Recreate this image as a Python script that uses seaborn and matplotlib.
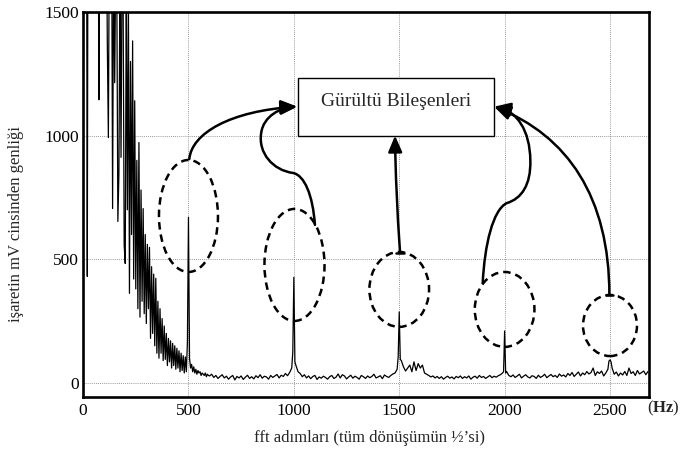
import numpy as np
import pandas as pd
import matplotlib
matplotlib.use("Agg")
import matplotlib.pyplot as plt
import seaborn as sns
from matplotlib.patches import Ellipse, FancyArrowPatch, Rectangle
from matplotlib.path import Path

# ---------------- data ----------------
freq_low = np.arange(0, 600, 5)
amp_low = [
    3000, 3000, 2800, 2600, 431, 2900, 2500, 2700, 2300, 2600,
    2400, 2200, 2500, 2100, 2300, 1145, 2400, 2000, 2200, 1900,
    2100, 1800, 2000, 1370, 992, 1900, 1700, 2000, 705, 1800,
    1214, 1700, 1600, 653, 846, 1650, 912, 1700, 1550, 556,
    483, 1600, 700, 1550, 362, 1300, 600, 1383, 420, 1141,
    380, 900, 300, 972, 266, 780, 330, 705, 280, 600,
    240, 560, 300, 548, 180, 470, 200, 440, 150, 423,
    120, 330, 100, 300, 120, 260, 90, 230, 95, 200,
    70, 180, 85, 170, 60, 160, 70, 150, 55, 140,
    60, 130, 45, 120, 50, 110, 40, 105, 45, 165,
    670, 100, 60, 75, 45, 65, 40, 55, 35, 50,
    40, 45, 30, 40, 35, 30, 40, 25, 35, 30,
]
freq_floor = np.arange(600, 2690, 10)
amp_floor = [
    28, 35, 22, 30, 18, 26, 33, 20, 27, 15,
    24, 30, 12, 26, 20, 28, 14, 23, 31, 18,
    25, 16, 29, 21, 33, 19, 27, 24, 15, 30,
    22, 28, 34, 20, 31, 26, 38, 29, 42, 60,
    427, 70, 45, 38, 25, 33, 20, 28, 17, 26,
    30, 14, 24, 19, 27, 22, 15, 25, 30, 18,
    23, 36, 20, 33, 28, 16, 24, 31, 19, 27,
    22, 15, 30, 25, 18, 28, 21, 26, 35, 20,
    24, 29, 17, 32, 26, 22, 30, 36, 40, 55,
    287, 90, 65, 48, 60, 72, 45, 85, 50, 78,
    60, 72, 40, 35, 30, 24, 28, 20, 26, 18,
    25, 15, 22, 27, 19, 24, 16, 26, 21, 28,
    18, 25, 20, 28, 15, 23, 27, 19, 30, 22,
    26, 18, 24, 30, 21, 27, 23, 29, 33, 40,
    210, 45, 30, 25, 32, 22, 28, 35, 20, 27,
    33, 24, 20, 29, 26, 18, 31, 22, 27, 35,
    21, 28, 34, 25, 30, 22, 36, 27, 32, 24,
    38, 30, 42, 26, 35, 44, 28, 40, 33, 46,
    36, 42, 60, 30, 45, 38, 48, 28, 40, 55,
    93, 60, 35, 44, 28, 40, 32, 46, 30, 60,
    38, 45, 30, 50, 36, 42, 48, 33, 46,
]
freq_shoulder = [995, 1005, 1495, 1505, 1995, 2005, 2495, 2505]
amp_shoulder = [125, 85, 105, 95, 45, 40, 88, 85]

x_ticks = [0, 500, 1000, 1500, 2000, 2500]
y_ticks = [0, 500, 1000, 1500]
x_label = "fft adımları (tüm dönüşümün ½’si)"
y_label = "işaretin mV cinsinden genliği"
box_label = "Gürültü Bileşenleri"

# annotation geometry (data units)
ellipses = [  # (cx, cy, width, height)
    (500, 675, 280, 453),
    (1003, 477, 285, 453),
    (1500, 378, 283, 303),
    (2000, 297, 283, 303),
    (2500, 232, 256, 247),
]
box = (1018, 1000, 930, 232)

# ---------------- figure ----------------
sns.set_style("white")
plt.rcParams["font.family"] = ["Liberation Serif", "DejaVu Serif"]
plt.rcParams["mathtext.fontset"] = "custom"
plt.rcParams["mathtext.rm"] = "Liberation Serif"
plt.rcParams["mathtext.bf"] = "Liberation Serif:bold"

df = pd.concat([
    pd.DataFrame({"freq": freq_low, "amp": amp_low}),
    pd.DataFrame({"freq": freq_floor, "amp": amp_floor}),
    pd.DataFrame({"freq": freq_shoulder, "amp": amp_shoulder}),
]).sort_values("freq").reset_index(drop=True)

fig = plt.figure(figsize=(6.81, 4.54), dpi=100)
ax = fig.add_axes([0.122, 0.1256, 0.831, 0.848])

sns.lineplot(data=df, x="freq", y="amp", color="black", linewidth=0.9,
             estimator=None, ax=ax, zorder=3)

ax.set_xlim(0, 2685)
ax.set_ylim(-57, 1500)
ax.set_xticks(x_ticks)
ax.set_yticks(y_ticks)
ax.tick_params(length=0, labelsize=12.5, colors="black")
ax.tick_params(axis="x", pad=4)
ax.tick_params(axis="y", pad=3)
ax.grid(True, linestyle=(0, (1, 1.5)), color="#777777", linewidth=0.6)
for s in ax.spines.values():
    s.set_linewidth(1.9)
    s.set_color("black")

ax.set_xlabel(x_label, fontsize=12)
ax.set_ylabel(y_label, fontsize=12)
ax.xaxis.set_label_coords(0.507, -0.085)
ax.yaxis.set_label_coords(-0.104, 0.449)

fig.text(680 / 681, 1 - 408 / 454, r"($\mathbf{Hz}$)", fontsize=12,
         ha="right", va="center")

# dashed ellipses
for cx, cy, w, h in ellipses:
    ax.add_patch(Ellipse((cx, cy), w, h, fill=False, edgecolor="black",
                         linewidth=1.8, linestyle=(0, (3, 2)), zorder=4))

# box with label
bx, by, bw, bh = box
ax.add_patch(Rectangle((bx, by), bw, bh, facecolor="white",
                       edgecolor="black", linewidth=1.0, zorder=5))
ax.text(bx + bw / 2, by + bh * 0.6, box_label, fontsize=14,
        ha="center", va="center", zorder=6)

# curved arrows
M, C = Path.MOVETO, Path.CURVE4
arrow_paths = [
    ([(504, 905), (515, 1010), (700, 1100), (1016, 1117)], [M, C, C, C]),
    ([(1100, 639), (1090, 760), (1050, 840), (996, 849),
      (900, 860), (830, 930), (845, 1010),
      (855, 1080), (940, 1115), (1016, 1117)], [M] + [C] * 9),
    ([(1504, 526), (1490, 700), (1482, 850), (1480, 1000)], [M, C, C, C]),
    ([(1896, 403), (1905, 560), (1945, 700), (2010, 727),
      (2080, 745), (2125, 800), (2122, 900),
      (2120, 1020), (2060, 1100), (1950, 1117)], [M] + [C] * 9),
    ([(2497, 356), (2497, 750), (2300, 1000), (1950, 1117)], [M, C, C, C]),
]
for verts, codes in arrow_paths:
    ax.add_patch(FancyArrowPatch(path=Path(verts, codes),
                                 arrowstyle="-|>,head_length=0.7,head_width=0.3",
                                 mutation_scale=14, linewidth=1.8,
                                 color="black", transform=ax.transData,
                                 zorder=6))

# small bars at arrow tails
for cx, cy, half in [(1504, 526, 20), (2497, 356, 18)]:
    ax.plot([cx - half, cx + half], [cy, cy], color="black", linewidth=1.8,
            zorder=6)

fig.savefig("out.png", dpi=100)
